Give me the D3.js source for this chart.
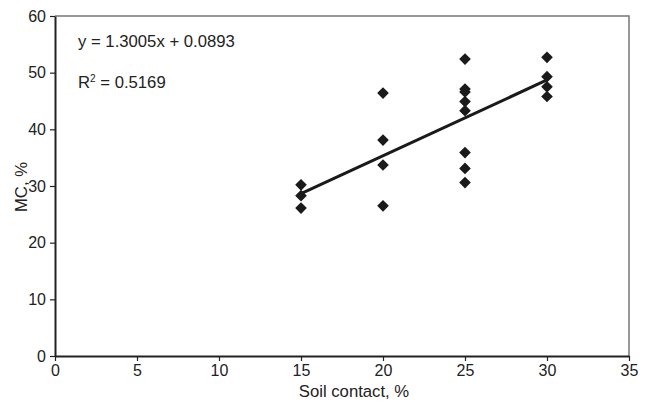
<!DOCTYPE html>
<html>
<head>
<meta charset="utf-8">
<script src="https://cdn.jsdelivr.net/npm/d3@7"></script>
<style>
  body { margin: 0; background: #fff; }
  text { font-family: "Liberation Sans", Arial, sans-serif; fill: #222; }
</style>
</head>
<body>
<div id="chart"></div>
<script>
// soil contact (%) and moisture content (%)
var soilContact = [15, 15, 15, 20, 20, 20, 20, 25, 25, 25, 25, 25, 25, 25, 25, 30, 30, 30, 30];
var mcValues = [30.2, 28.3, 26.1, 46.4, 38.1, 33.7, 26.5, 52.4, 47.1, 46.6, 44.9, 43.3, 35.9, 33.1, 30.6, 52.7, 49.3, 47.5, 45.8];
var xTicks = [0, 5, 10, 15, 20, 25, 30, 35];
var yTicks = [0, 10, 20, 30, 40, 50, 60];
var eqLabel = "y = 1.3005x + 0.0893";
var r2Value = "0.5169";

var W = 647, H = 403;
var m = {left: 55, right: 18, top: 16, bottom: 47};

var svg = d3.select("#chart").append("svg").attr("width", W).attr("height", H);

var x = d3.scaleLinear().domain([0, 35]).range([m.left, W - m.right]);
var y = d3.scaleLinear().domain([0, 60]).range([H - m.bottom, m.top]);

// plot frame top/right
svg.append("path")
  .attr("d", "M" + x(0) + "," + y(60) + "H" + x(35) + "V" + y(0))
  .attr("fill", "none").attr("stroke", "#777").attr("stroke-width", 1.5);

var xAxis = svg.append("g").attr("transform", "translate(0," + y(0) + ")")
  .call(d3.axisBottom(x).tickValues(xTicks).tickSize(5).tickSizeOuter(0).tickPadding(4));
var yAxis = svg.append("g").attr("transform", "translate(" + x(0) + ",0)")
  .call(d3.axisLeft(y).tickValues(yTicks).tickSize(5).tickSizeOuter(0).tickPadding(4));

[xAxis, yAxis].forEach(function (a) {
  a.select(".domain").attr("stroke", "#222").attr("stroke-width", 2);
  a.selectAll(".tick line").attr("stroke", "#222").attr("stroke-width", 1.2);
  a.selectAll(".tick text").style("font-size", "16px").attr("fill", "#222")
    .style("font-family", "'Liberation Sans', Arial, sans-serif");
});

// least squares trend line
var n = soilContact.length;
var mx = d3.mean(soilContact), my = d3.mean(mcValues);
var sxy = 0, sxx = 0;
for (var i = 0; i < n; i++) {
  sxy += (soilContact[i] - mx) * (mcValues[i] - my);
  sxx += (soilContact[i] - mx) * (soilContact[i] - mx);
}
var slope = sxy / sxx, icpt = my - slope * mx;
var xr = d3.extent(soilContact);
svg.append("line")
  .attr("x1", x(xr[0])).attr("y1", y(slope * xr[0] + icpt))
  .attr("x2", x(xr[1])).attr("y2", y(slope * xr[1] + icpt))
  .attr("stroke", "#1a1a1a").attr("stroke-width", 3);

// diamonds
var diamond = d3.symbol().type(d3.symbolSquare).size(68);
svg.selectAll(".pt").data(soilContact).enter().append("path")
  .attr("class", "pt")
  .attr("d", diamond)
  .attr("transform", function (d, i) { return "translate(" + x(d) + "," + y(mcValues[i]) + ") rotate(45)"; })
  .attr("fill", "#1a1a1a");

// equation text
svg.append("text").attr("x", 78).attr("y", 47).style("font-size", "16.7px").text(eqLabel);
var r2 = svg.append("text").attr("x", 78).attr("y", 88).style("font-size", "16.7px");
r2.append("tspan").text("R");
r2.append("tspan").attr("dy", -6).style("font-size", "10px").text("2");
r2.append("tspan").attr("dy", 6).text(" = " + r2Value);

// axis titles
svg.append("text").attr("x", 354).attr("y", 397).attr("text-anchor", "middle")
  .style("font-size", "16.7px").text("Soil contact, %");
svg.append("text").attr("transform", "translate(27,187) rotate(-90)")
  .attr("text-anchor", "middle").style("font-size", "16.7px").text("MC, %");
</script>
</body>
</html>
